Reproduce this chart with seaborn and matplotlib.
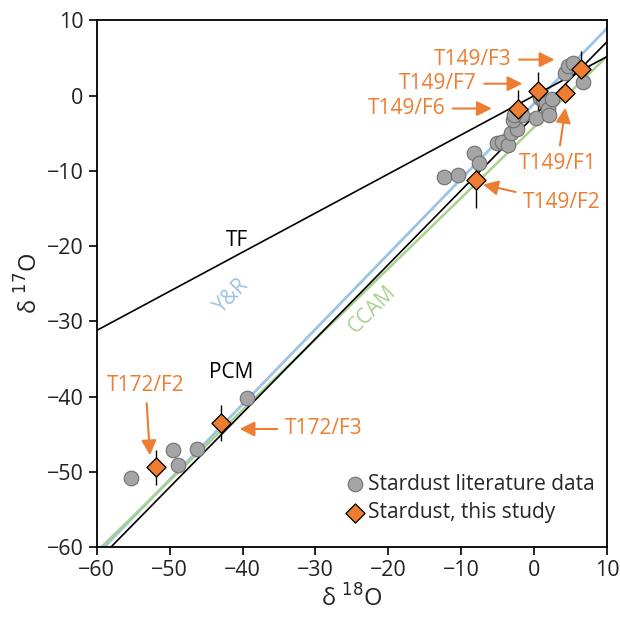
import matplotlib
matplotlib.use("Agg")
import matplotlib.pyplot as plt
import seaborn as sns
import pandas as pd

# Stardust literature data (delta 18O, delta 17O)
lit_d18 = [-55.3, -49.6, -48.8, -46.3, -39.4, -12.3, -10.5, -8.3, -7.6, -5.1,
           -4.4, -3.6, -3.1, -2.4, -2.9, -1.6, -2.7, 0.2, 0.8, 1.2,
           1.7, 1.9, 2.1, 2.4, 4.2, 4.6, 5.3, 6.7]
lit_d17 = [-50.8, -47.1, -49.1, -47.0, -40.2, -10.8, -10.6, -7.6, -8.9, -6.3,
           -6.1, -6.6, -5.0, -4.4, -3.2, -2.6, -2.6, -3.0, -0.3, -0.6,
           -1.0, -1.8, -2.5, -0.4, 3.0, 4.0, 4.4, 1.8]

# this study
grains = ["T149/F3", "T149/F7", "T149/F6", "T149/F1", "T149/F2", "T172/F3", "T172/F2"]
study_d18 = [6.4, 0.5, -2.2, 4.2, -8.0, -43.0, -51.8]
study_d17 = [3.6, 0.6, -1.8, 0.3, -11.2, -43.5, -49.4]
study_err17 = [2.4, 2.5, 2.5, 1.0, 3.7, 2.4, 2.3]

# reference lines: name -> (slope, intercept)
ref_lines = {
    "Y&R": (1.0, -1.04),
    "CCAM": (0.94, -4.18),
    "PCM": (0.987, -2.70),
    "TF": (0.52, 0.0),
}

ORANGE = "#ED7D31"
line_style = {
    "Y&R": dict(color="#9DC3E6", lw=2.0, zorder=1),
    "CCAM": dict(color="#A9D18E", lw=1.8, zorder=1),
    "PCM": dict(color="black", lw=1.2, zorder=2),
    "TF": dict(color="black", lw=1.2, zorder=2),
}
# label position (data coords), rotation
line_labels = {
    "TF": (-40.7, -19.2, 0),
    "Y&R": (-41.5, -26.6, 46),
    "CCAM": (-22.2, -28.4, 45),
    "PCM": (-41.5, -36.8, 0),
}
# grain label: (text x, text y, arrow head x, arrow head y)
grain_labels = {
    "T149/F3": (-8.4, 4.8, 2.8, 4.8),
    "T149/F7": (-13.2, 1.6, -1.6, 1.6),
    "T149/F6": (-17.5, -1.7, -5.8, -1.7),
    "T149/F1": (3.2, -9.0, 4.3, -1.6),
    "T149/F2": (3.8, -14.2, -7.0, -11.8),
    "T172/F3": (-28.9, -44.3, -40.4, -44.3),
    "T172/F2": (-53.3, -38.5, -52.7, -47.8),
}

sns.set_theme(style="ticks")
plt.rcParams["font.family"] = ["Open Sans", "DejaVu Sans"]

lit = pd.DataFrame({"d18": lit_d18, "d17": lit_d17})
study = pd.DataFrame({"d18": study_d18, "d17": study_d17, "err": study_err17, "grain": grains})

fig = plt.figure(figsize=(6.2, 6.21), dpi=100)
ax = fig.add_axes([0.156, 0.119, 0.823, 0.848])

for name, (m, b) in ref_lines.items():
    ax.axline((0, b), slope=m, **line_style[name])
    tx, ty, rot = line_labels[name]
    ax.text(tx, ty, name, color=line_style[name]["color"], fontsize=15,
            rotation=rot, ha="center", va="center", rotation_mode="anchor")

ax.errorbar(study["d18"], study["d17"], yerr=study["err"], fmt="none",
            ecolor="black", elinewidth=1.0, capsize=0, zorder=3)

sns.scatterplot(data=lit, x="d18", y="d17", ax=ax, color="#A5A5A5",
                edgecolor="#6f6f6f", linewidth=0.8, s=110, marker="o",
                label="Stardust literature data", zorder=4)
sns.scatterplot(data=study, x="d18", y="d17", ax=ax, color=ORANGE,
                edgecolor="black", linewidth=0.9, s=95, marker="D",
                label="Stardust, this study", zorder=5)

for g, (tx, ty, hx, hy) in grain_labels.items():
    ax.annotate(g, xy=(hx, hy), xytext=(tx, ty), color=ORANGE, fontsize=15,
                ha="center", va="center",
                arrowprops=dict(arrowstyle="-|>,head_length=0.6,head_width=0.3",
                                color=ORANGE, lw=1.5, shrinkA=3, shrinkB=0))

ax.set_xlim(-60, 10)
ax.set_ylim(-60, 10)
ax.set_xticks(range(-60, 11, 10))
ax.set_yticks(range(-60, 11, 10))
ax.tick_params(direction="out", length=6, width=1.2, labelsize=15.5, color="black",
               labelcolor="#222222", top=False, right=False)
for sp in ax.spines.values():
    sp.set_color("black")
    sp.set_linewidth(1.3)
ax.set_xlabel("δ $^{18}$O", fontsize=17, labelpad=3)
ax.set_ylabel("δ $^{17}$O", fontsize=17, labelpad=2)

ax.legend(loc="lower left", bbox_to_anchor=(0.47, 0.03), frameon=False,
          fontsize=15, handletextpad=0.1, labelspacing=0.35, borderaxespad=0,
          handlelength=1.0)

fig.savefig("out.png", dpi=100)
